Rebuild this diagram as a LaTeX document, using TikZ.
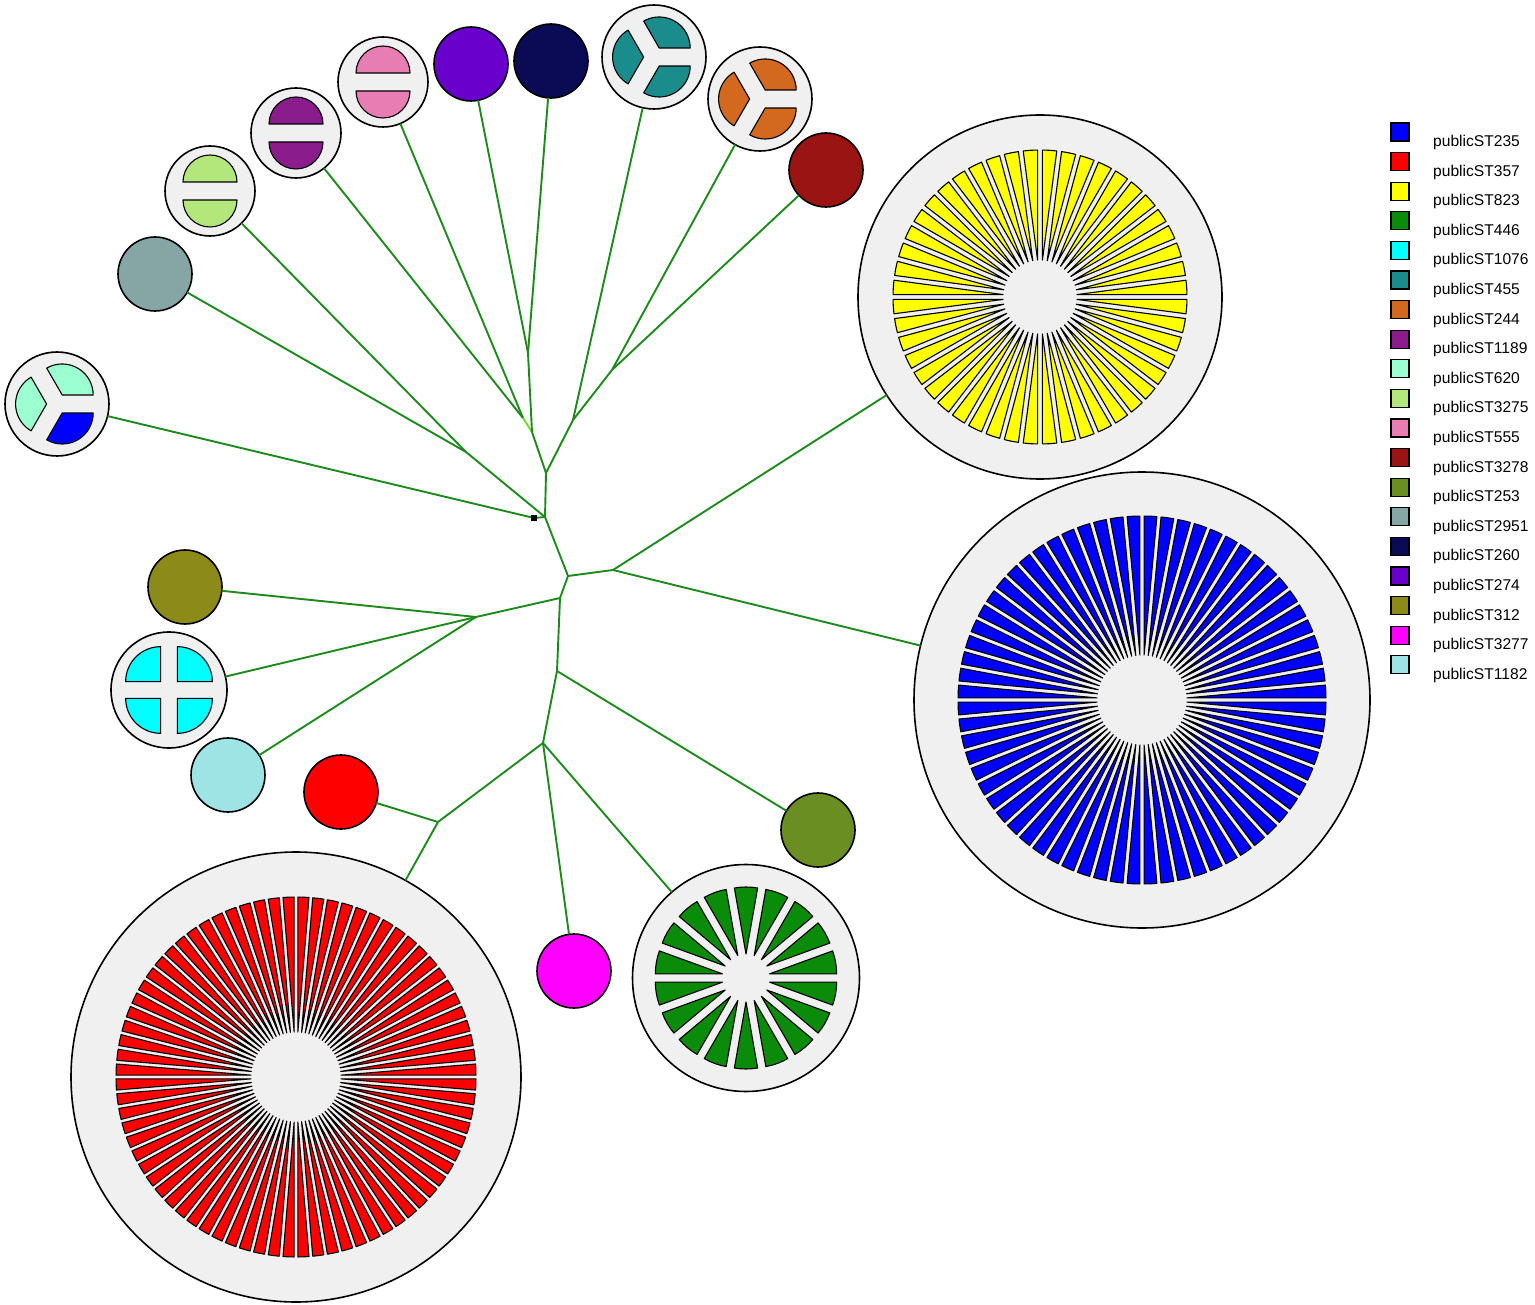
\documentclass[tikz,border=0pt]{standalone}
\usepackage{fontspec}
\setmainfont{Liberation Sans}
\usetikzlibrary{calc}
\definecolor{bgc}{HTML}{F0F0F0}
\definecolor{edgec}{RGB}{30,138,30}
\definecolor{edgel}{RGB}{110,220,40}
\definecolor{c235}{HTML}{0000FF}
\definecolor{c357}{HTML}{FF0000}
\definecolor{c823}{HTML}{FFFF00}
\definecolor{c446}{HTML}{0A8C0A}
\definecolor{c1076}{HTML}{00FFFF}
\definecolor{c455}{HTML}{1A8C8C}
\definecolor{c244}{HTML}{D2691E}
\definecolor{c1189}{HTML}{8B1C8B}
\definecolor{c620}{HTML}{9BFFD2}
\definecolor{c3275}{HTML}{B3E67B}
\definecolor{c555}{HTML}{E87DB4}
\definecolor{c3278}{HTML}{9A1414}
\definecolor{c253}{HTML}{6B8E23}
\definecolor{c2951}{HTML}{86A6A6}
\definecolor{c260}{HTML}{0B0B55}
\definecolor{c274}{HTML}{6A00CC}
\definecolor{c312}{HTML}{8C8A18}
\definecolor{c3277}{HTML}{FF00FF}
\definecolor{c1182}{HTML}{9EE4E4}
\newcommand{\drawpie}[5]{%
  \pgfmathsetmacro{\pstep}{360/#2}%
  \foreach \k in {1,...,#2}{%
    \pgfmathsetmacro{\aA}{(\k-1)*\pstep}%
    \pgfmathsetmacro{\aB}{\k*\pstep}%
    \pgfmathsetmacro{\aM}{(\k-0.5)*\pstep}%
    \filldraw[slice, fill=#5, shift={(#1.center)}, shift={(\aM:#3)}]
      (0,0) -- (\aA:#4) arc[start angle=\aA, end angle=\aB, radius=#4] -- cycle;
  }%
}
\begin{document}
\begin{tikzpicture}[x=1pt,y=-1pt,
  base/.style={circle, draw=black, line width=1.6pt, inner sep=0pt, outer sep=0pt},
  single/.style={base, minimum size=74pt, fill=#1},
  multi/.style={base, minimum size=#1, fill=bgc},
  slice/.style={draw=black, line width=1.1pt, line join=round},
  edge/.style={draw=edgec, line width=1.9pt},
  edgelight/.style={draw=edgel, line width=1.9pt},
  rootsq/.style={rectangle, fill=black, minimum size=6pt, inner sep=0pt, outer sep=0pt},
  legbox/.style={rectangle, draw=black, line width=1.1pt, fill=#1, minimum size=18pt, inner sep=0pt},
  legtext/.style={anchor=base west, inner sep=0pt, font=\fontsize{15.6}{18}\selectfont}]
\useasboundingbox[fill=white] (0,0) rectangle (1535,1305);

% ---- nodes ----
\node[multi=104pt] (n620) at (57,404) {};
\node[single=c2951] (n2951) at (155,274) {};
\node[multi=90pt] (n3275) at (210,191) {};
\node[multi=90pt] (n1189) at (296,133) {};
\node[multi=90pt] (n555) at (383,82) {};
\node[single=c274] (n274) at (471,64) {};
\node[single=c260] (n260) at (551,61) {};
\node[multi=104pt] (n455) at (654,57) {};
\node[multi=104pt] (n244) at (760,99) {};
\node[single=c3278] (n3278) at (826,170) {};
\node[multi=364pt] (n823) at (1040,297) {};
\node[multi=456pt] (n235) at (1142,700) {};
\node[single=c312] (n312) at (185,587) {};
\node[multi=116pt] (n1076) at (169,690) {};
\node[single=c1182] (n1182) at (228,775) {};
\node[single=c357] (n357a) at (341,792) {};
\node[multi=450pt] (n357b) at (296,1077) {};
\node[single=c3277] (n3277) at (574,971) {};
\node[multi=227pt] (n446) at (746,978) {};
\node[single=c253] (n253) at (818,830) {};
\node[rootsq] (root) at (534,518) {};

% ---- pie slices ----
\drawpie{n3275}{2}{9}{27}{c3275}
\drawpie{n1189}{2}{9}{27}{c1189}
\drawpie{n555}{2}{9}{27}{c555}
\drawpie{n455}{3}{10.4}{31}{c455}
\drawpie{n244}{3}{10.4}{31}{c244}
\drawpie{n1076}{4}{11.8}{35}{c1076}
\drawpie{n446}{18}{24}{67}{c446}
\drawpie{n823}{48}{37}{110}{c823}
\drawpie{n235}{68}{45}{139}{c235}
\drawpie{n357b}{76}{45}{135}{c357}
\filldraw[slice, fill=c235, shift={(n620.center)}, shift={(60:10.4)}]
  (0,0) -- (0:31) arc[start angle=0, end angle=120, radius=31] -- cycle;
\filldraw[slice, fill=c620, shift={(n620.center)}, shift={(180:10.4)}]
  (0,0) -- (120:31) arc[start angle=120, end angle=240, radius=31] -- cycle;
\filldraw[slice, fill=c620, shift={(n620.center)}, shift={(300:10.4)}]
  (0,0) -- (240:31) arc[start angle=240, end angle=360, radius=31] -- cycle;

% ---- junctions ----
\coordinate (jR) at (523,418);
\coordinate (jP) at (528,353);
\coordinate (jC) at (532,432);
\coordinate (jQ) at (612,370);
\coordinate (jD) at (573,420);
\coordinate (jB) at (546,473);
\coordinate (jE) at (466,452);
\coordinate (jA) at (545,517);
\coordinate (jF) at (568,576);
\coordinate (jG) at (613,570);
\coordinate (jH) at (560,598);
\coordinate (jI) at (476,617);
\coordinate (jJ) at (557,671);
\coordinate (jK) at (543,743);
\coordinate (jL) at (438,822);

% ---- edges ----
\draw[edge] (n1189) -- (jR);
\draw[edge] (n555) -- (jR);
\draw[edgelight] (jR) -- (jC);
\draw[edge] (n274) -- (jP);
\draw[edge] (n260) -- (jP);
\draw[edge] (jP) -- (jC);
\draw[edge] (n3278) -- (jQ);
\draw[edge] (n244) -- (jQ);
\draw[edge] (jQ) -- (jD);
\draw[edge] (n455) -- (jD);
\draw[edge] (jC) -- (jB);
\draw[edge] (jD) -- (jB);
\draw[edge] (jB) -- (jA);
\draw[edge] (n2951) -- (jE);
\draw[edge] (n3275) -- (jE);
\draw[edge] (jE) -- (jA);
\draw[edge] (n620) -- (root);
\draw[edge] (root) -- (jA);
\draw[edge] (jA) -- (jF);
\draw[edge] (jF) -- (jG);
\draw[edge] (jG) -- (n823);
\draw[edge] (jG) -- (n235);
\draw[edge] (jF) -- (jH);
\draw[edge] (jH) -- (jI);
\draw[edge] (jI) -- (n312);
\draw[edge] (jI) -- (n1076);
\draw[edge] (jI) -- (n1182);
\draw[edge] (jH) -- (jJ);
\draw[edge] (jJ) -- (n253);
\draw[edge] (jJ) -- (jK);
\draw[edge] (jK) -- (jL);
\draw[edge] (jL) -- (n357a);
\draw[edge] (jL) -- (n357b);
\draw[edge] (jK) -- (n3277);
\draw[edge] (jK) -- (n446);

% ---- legend ----
\foreach \c/\t [count=\i from 0] in {c235/publicST235, c357/publicST357, c823/publicST823,
  c446/publicST446, c1076/publicST1076, c455/publicST455, c244/publicST244,
  c1189/publicST1189, c620/publicST620, c3275/publicST3275, c555/publicST555,
  c3278/publicST3278, c253/publicST253, c2951/publicST2951, c260/publicST260,
  c274/publicST274, c312/publicST312, c3277/publicST3277, c1182/publicST1182}{
  \node[legbox=\c] (lb\i) at ({1400},{132+29.6*\i}) {};
  \node[legtext] (lt\i) at ({1433},{146.5+29.6*\i}) {\t};
}
\end{tikzpicture}
\end{document}
